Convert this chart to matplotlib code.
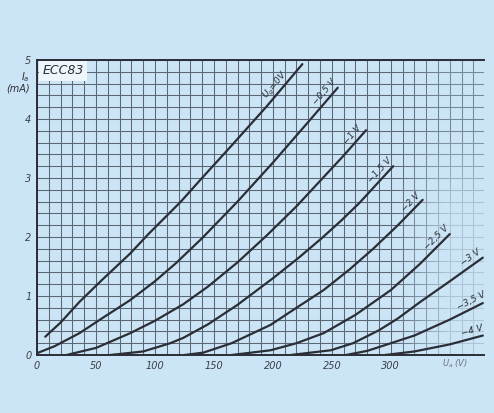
import numpy as np
import matplotlib.pyplot as plt
from matplotlib.ticker import MultipleLocator

# ECC83 anode characteristics
# anode voltage Ua (V) and anode current Ia (mA), one pair of lists per grid bias
ua_0 = [7, 20, 36, 55, 79, 94, 122, 139, 165, 195, 225]
ia_0 = [0.31, 0.55, 0.9, 1.27, 1.72, 2.04, 2.6, 2.98, 3.55, 4.22, 4.93]

ua_05 = [0, 15, 36, 55, 79, 100, 118, 140, 170, 200, 230, 255]
ia_05 = [0.03, 0.15, 0.37, 0.62, 0.93, 1.25, 1.56, 1.98, 2.6, 3.26, 3.95, 4.53]

ua_1 = [25, 50, 79, 100, 124, 145, 170, 195, 220, 240, 260, 279]
ia_1 = [0.0, 0.12, 0.37, 0.58, 0.86, 1.16, 1.57, 2.03, 2.52, 2.95, 3.38, 3.81]

ua_15 = [62, 90, 113, 124, 145, 170, 200, 222, 242, 258, 273, 302]
ia_15 = [0.0, 0.06, 0.2, 0.29, 0.52, 0.85, 1.3, 1.65, 1.99, 2.28, 2.57, 3.2]

ua_2 = [125, 141, 165, 198, 220, 243, 265, 285, 306, 327]
ia_2 = [0.0, 0.04, 0.2, 0.51, 0.8, 1.1, 1.45, 1.8, 2.2, 2.63]

ua_25 = [165, 198, 220, 243, 270, 300, 325, 350]
ia_25 = [0.0, 0.08, 0.2, 0.37, 0.68, 1.1, 1.55, 2.05]

ua_3 = [215, 249, 268, 290, 306, 325, 350, 378]
ia_3 = [0.0, 0.08, 0.2, 0.42, 0.62, 0.9, 1.25, 1.65]

ua_35 = [262, 280, 297, 320, 350, 378]
ia_35 = [0.0, 0.07, 0.18, 0.33, 0.6, 0.88]

ua_4 = [295, 320, 350, 378]
ia_4 = [0.0, 0.06, 0.18, 0.33]

curve_labels = ['$U_g$=0V', '\u22120,5 V', '\u22121 V', '\u22121,5 V', '\u22122 V',
                '\u22122,5 V', '\u22123 V', '\u22123,5 V', '\u22124 V']
x_ticks = [0, 50, 100, 150, 200, 250, 300]
y_ticks = [0, 1, 2, 3, 4, 5]

curves = [(ua_0, ia_0), (ua_05, ia_05), (ua_1, ia_1), (ua_15, ia_15), (ua_2, ia_2),
          (ua_25, ia_25), (ua_3, ia_3), (ua_35, ia_35), (ua_4, ia_4)]
# how far back along the curve each label sits (pixels)
label_back = [34, 12, 12, 12, 10, 12, 10, 10, 9]

bg = '#cbe5f6'
ink = '#2b2e36'
grid_col = '#5b6874'

fig = plt.figure(figsize=(4.94, 4.13), dpi=100, facecolor=bg)
ax = fig.add_axes([37 / 494, 58 / 413, 447 / 494, 295 / 413])
ax.set_facecolor(bg)

ax.xaxis.set_minor_locator(MultipleLocator(10))
ax.yaxis.set_minor_locator(MultipleLocator(0.2))
ax.set_xticks(x_ticks)
ax.set_yticks(y_ticks)
ax.set_axisbelow(True)
ax.grid(which='both', color=grid_col, lw=0.75)
ax.tick_params(which='both', length=0, colors=ink, labelsize=7, pad=4)
for lab in ax.get_xticklabels() + ax.get_yticklabels():
    lab.set_fontstyle('italic')
    lab.set_color('#3a3f4a')

# faded grid on the right, as on the scan
fade = np.zeros((50, 100, 4))
fade[..., :3] = np.array([0xcb, 0xe5, 0xf6]) / 255
xx = np.linspace(0, 1, 100)[None, :]
yy = np.linspace(0, 1, 50)[:, None]
fade[..., 3] = np.clip((xx - 0.8) / 0.12, 0, 1) * 0.75 * np.clip((0.9 - yy) / 0.4, 0.35, 1)
ax.imshow(fade, extent=[0, 1, 0, 1], transform=ax.transAxes, origin='lower',
          aspect='auto', zorder=1)

ax.set_xlim(0, 379)
ax.set_ylim(0, 5)

for s in ['left', 'bottom', 'top']:
    ax.spines[s].set_color(ink)
    ax.spines[s].set_linewidth(1.4)
ax.spines['right'].set_visible(False)

for (ua, ia), lab, back in zip(curves, curve_labels, label_back):
    ax.plot(ua, ia, color=ink, lw=1.6, zorder=3, solid_capstyle='round')
    p1 = ax.transData.transform((ua[-2], ia[-2]))
    p2 = ax.transData.transform((ua[-1], ia[-1]))
    d = (p2 - p1) / np.hypot(*(p2 - p1))
    n = np.array([-d[1], d[0]])
    off = -d * back + n * 7
    ang = np.degrees(np.arctan2(d[1], d[0]))
    ax.annotate(lab, (ua[-1], ia[-1]), xytext=(off[0], off[1]), textcoords='offset pixels',
                rotation=ang, rotation_mode='anchor', ha='center', va='center',
                fontsize=6.5, fontstyle='italic', color=ink, zorder=4,
                annotation_clip=False)

ax.text(0.012, 0.985, 'ECC83', transform=ax.transAxes, ha='left', va='top',
        fontsize=9, fontstyle='italic', color=ink, zorder=4,
        bbox=dict(boxstyle='square,pad=0.25', fc='#eef6fb', ec='none'))

fig.text(30 / 494, 1 - 82 / 413, '$I_a$\n(mA)', ha='right', va='center', fontsize=7,
         fontstyle='italic', color=ink, linespacing=0.9)
fig.text(455 / 494, 1 - 364 / 413, '$U_a$ (V)', ha='center', va='center', fontsize=6,
         fontstyle='italic', color='#6a7280')

fig.savefig('out.png', dpi=100, facecolor=bg)
